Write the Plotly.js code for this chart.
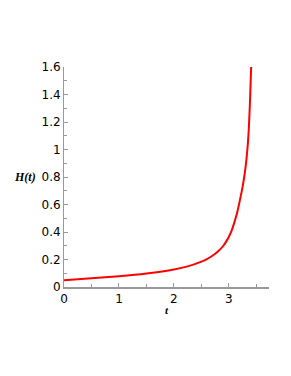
<!DOCTYPE html>
<html>
<head>
<meta charset="utf-8">
<script src="https://cdn.plot.ly/plotly-3.0.1.min.js"></script>
<style>html,body{margin:0;padding:0;background:#fff;}#chart{width:291px;height:376px;}</style>
</head>
<body>
<div id="chart"></div>
<script>
const tValues = [0, 0.5, 1, 1.5, 2, 2.25, 2.5, 2.6, 2.7, 2.8, 2.9, 2.95, 3.0, 3.05, 3.1, 3.15, 3.2, 3.25, 3.29, 3.32, 3.345, 3.365, 3.385, 3.405];
const hValues = [0.05, 0.063, 0.078, 0.098, 0.127, 0.15, 0.185, 0.203, 0.227, 0.258, 0.30, 0.33, 0.365, 0.41, 0.47, 0.54, 0.63, 0.73, 0.83, 0.93, 1.04, 1.17, 1.36, 1.6];
const xTitle = "t";
const yTitle = "H(t)";

const axisColor = "#999999";
const tickFont = {family: "DejaVu Sans, sans-serif", size: 12, color: "#000"};

Plotly.newPlot("chart", [{
  x: tValues, y: hValues, type: "scatter", mode: "lines",
  line: {color: "#ff0000", width: 2, shape: "spline", smoothing: 0.6},
  hoverinfo: "skip"
}], {
  width: 291, height: 376,
  margin: {l: 64, r: 22, t: 67, b: 89},
  paper_bgcolor: "#fff", plot_bgcolor: "#fff",
  showlegend: false,
  xaxis: {
    range: [0, 3.73], dtick: 1, tick0: 0,
    showgrid: false, zeroline: false,
    showline: true, linecolor: axisColor, linewidth: 2,
    ticks: "inside", ticklen: 4, tickcolor: axisColor, tickwidth: 1,
    minor: {dtick: 0.5, ticks: "inside", ticklen: 3, tickcolor: axisColor, showgrid: false},
    tickfont: tickFont,
    title: {text: "<b><i>" + xTitle + "</i></b>", font: {family: "Liberation Serif, serif", size: 11, color: "#000"}, standoff: 1}
  },
  yaxis: {
    range: [0, 1.6], dtick: 0.2, tick0: 0,
    showgrid: false, zeroline: false,
    showline: true, linecolor: axisColor, linewidth: 1,
    ticks: "inside", ticklen: 4, tickcolor: axisColor, tickwidth: 1,
    minor: {dtick: 0.1, ticks: "inside", ticklen: 3, tickcolor: axisColor, showgrid: false},
    tickfont: tickFont
  },
  annotations: [{
    text: "<b><i>" + yTitle + "</i></b>", xref: "paper", yref: "y",
    x: -0.125, y: 0.8, xanchor: "right", yanchor: "middle", showarrow: false,
    font: {family: "Liberation Serif, serif", size: 12, color: "#000"}
  }]
}, {staticPlot: true, displayModeBar: false});
</script>
</body>
</html>
